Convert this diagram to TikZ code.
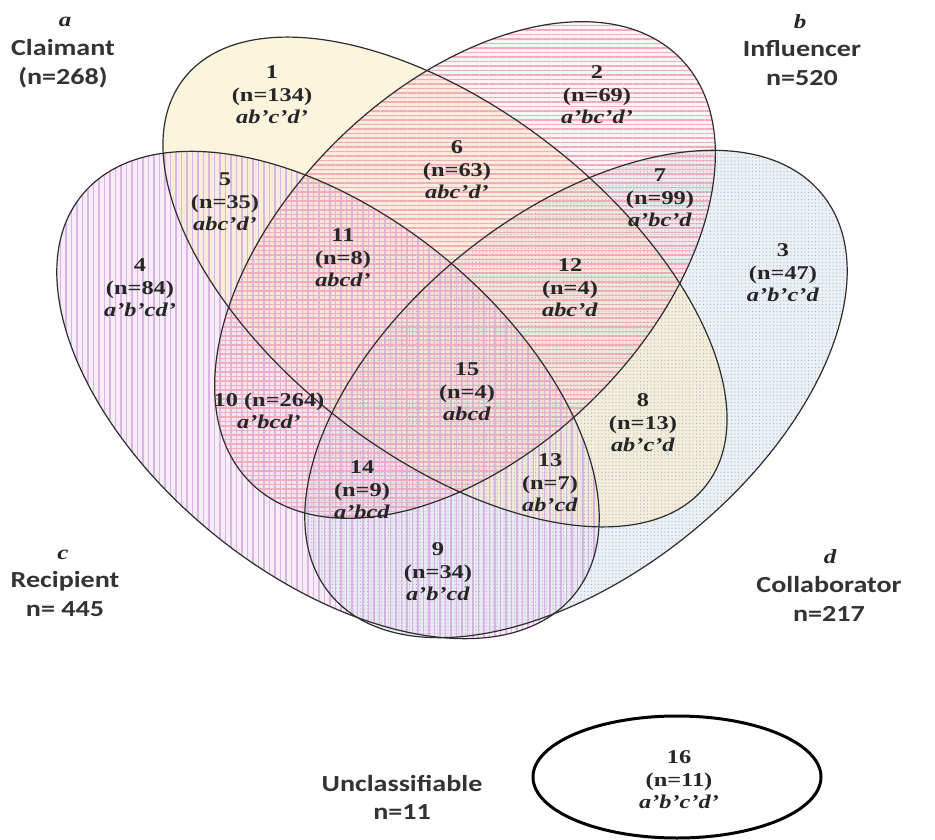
\documentclass[tikz,border=0pt]{standalone}
\usepackage{fontspec}
\usetikzlibrary{patterns.meta}
\newfontfamily\sansfnt{Carlito}[FakeStretch=1.22]
\newfontfamily\seriffnt{Liberation Serif}[FakeStretch=1.25]
\newcommand\regfont{\seriffnt\bfseries\fontsize{19.5}{22.5}\selectfont}
\newcommand\catfont{\sansfnt\bfseries\fontsize{23}{28.5}\selectfont}
\newcommand\letfont{\seriffnt\bfseries\itshape\fontsize{20}{24}\selectfont}
\definecolor{edge}{RGB}{45,45,45}
\definecolor{aFill}{RGB}{250,236,190}
\definecolor{bFill}{RGB}{252,212,216}
\definecolor{bLine}{RGB}{242,172,185}
\definecolor{cFill}{RGB}{240,218,242}
\definecolor{cLine}{RGB}{218,182,226}
\definecolor{dFill}{RGB}{222,230,242}
\definecolor{dDot}{RGB}{170,178,196}
\begin{document}
\begin{tikzpicture}[x=1pt,y=-1pt,
  ellA/.style={rotate around={-37.9:(445,282)}},
  ellB/.style={rotate around={44.5:(465,270)}},
  ellC/.style={rotate around={-39:(328,395)}},
  ellD/.style={rotate around={39:(576,394)}},
  outline/.style={draw=edge, line width=1.2pt},
  reg/.style={font=\regfont, align=center, inner sep=0pt, text=black!85},
  cat/.style={font=\catfont, align=center, inner sep=0pt, text=black!80},
  let/.style={font=\letfont, inner sep=0pt, text=black!85}]
\useasboundingbox (0,0) rectangle (935,840);
\fill[white] (0,0) rectangle (935,840);
% base tints
\fill[cFill, fill opacity=0.5, ellC] (328,395) ellipse [x radius=317pt, y radius=180pt];
\fill[dFill, fill opacity=0.55, ellD] (576,394) ellipse [x radius=317pt, y radius=180pt];
\fill[aFill, fill opacity=0.5, ellA] (445,282) ellipse [x radius=331pt, y radius=173pt];
\fill[bFill, fill opacity=0.25, ellB] (465,270) ellipse [x radius=302pt, y radius=182pt];
% patterns
\fill[ellC, pattern={Lines[angle=90,distance=5.5pt,line width=1.4pt]}, pattern color=cLine] (328,395) ellipse [x radius=317pt, y radius=180pt];
\fill[ellB, pattern={Lines[angle=0,distance=4.5pt,line width=1.1pt]}, pattern color=bLine] (465,270) ellipse [x radius=302pt, y radius=182pt];
\fill[ellD, pattern={Dots[distance=3.5pt,radius=0.6pt]}, pattern color=dDot] (576,394) ellipse [x radius=317pt, y radius=180pt];
% outlines
\draw[outline, ellC] (328,395) ellipse [x radius=317pt, y radius=180pt];
\draw[outline, ellD] (576,394) ellipse [x radius=317pt, y radius=180pt];
\draw[outline, ellA] (445,282) ellipse [x radius=331pt, y radius=173pt];
\draw[outline, ellB] (465,270) ellipse [x radius=302pt, y radius=182pt];
\draw[line width=3pt, black] (677,777) ellipse [x radius=144pt, y radius=61pt];
% category labels
\node[let] (la) at (65,22) {a};
\node[cat] (ta) at (63,63.5) {Claimant\\(n=268)};
\node[let] (lb) at (800,22) {b};
\node[cat] (tb) at (802,63) {Influencer\\n=520};
\node[let] (lc) at (63,555) {c};
\node[cat] (tc) at (65,594) {Recipient\\n= 445};
\node[let] (ld) at (830,557) {d};
\node[cat] (td) at (829,599) {Collaborator\\n=217};
\node[cat] (tu) at (402,797.5) {Unclassifiable\\n=11};
% region labels
\node[reg] (r1) at (272,95) {1\\(n=134)\\\textit{ab’c’d’}};
\node[reg] (r2) at (597,95) {2\\(n=69)\\\textit{a’bc’d’}};
\node[reg] (r3) at (783,273) {3\\(n=47)\\\textit{a’b’c’d}};
\node[reg] (r4) at (140,288) {4\\(n=84)\\\textit{a’b’cd’}};
\node[reg] (r5) at (225,202) {5\\(n=35)\\\textit{abc’d’}};
\node[reg] (r6) at (457,170) {6\\(n=63)\\\textit{abc’d’}};
\node[reg] (r7) at (660,198) {7\\(n=99)\\\textit{a’bc’d}};
\node[reg] (r8) at (643,423) {8\\(n=13)\\\textit{ab’c’d}};
\node[reg] (r9) at (438,572) {9\\(n=34)\\\textit{a’b’cd}};
\node[reg] (r10) at (269,411) {10 (n=264)\\\textit{a’bcd’}};
\node[reg] (r11) at (343,258) {11\\(n=8)\\\textit{abcd’}};
\node[reg] (r12) at (570,288) {12\\(n=4)\\\textit{abc’d}};
\node[reg] (r13) at (550,483) {13\\(n=7)\\\textit{ab’cd}};
\node[reg] (r14) at (362,490) {14\\(n=9)\\\textit{a’bcd}};
\node[reg] (r15) at (467,392) {15\\(n=4)\\\textit{abcd}};
\node[reg] (r16) at (679,780) {16\\(n=11)\\\textit{a’b’c’d’}};
\end{tikzpicture}
\end{document}
